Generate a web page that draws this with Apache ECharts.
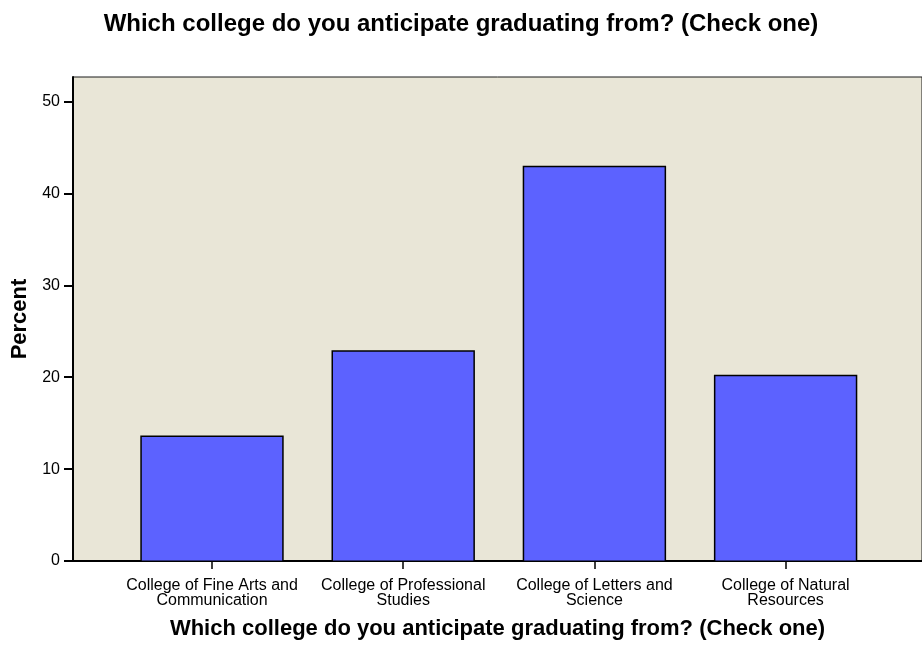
<!DOCTYPE html>
<html>
<head>
<meta charset="utf-8">
<script src="https://cdn.jsdelivr.net/npm/echarts@6/dist/echarts.min.js"></script>
<style>html,body{margin:0;padding:0;background:#fff;}#c{width:922px;height:645px;}</style>
</head>
<body>
<div id="c"></div>
<script>
const categories = ['College of Fine Arts and\nCommunication', 'College of Professional\nStudies', 'College of Letters and\nScience', 'College of Natural\nResources'];
const percentValues = [13.75, 23.0, 43.05, 20.35];
const yTickValues = [0, 10, 20, 30, 40, 50];
const titleText = 'Which college do you anticipate graduating from? (Check one)';

const chart = echarts.init(document.getElementById('c'), null, {renderer: 'canvas'});
const FONT = 'Arial, "Liberation Sans", Helvetica, sans-serif';
const yMax = 52.68;
chart.setOption({
  animation: false,
  backgroundColor: '#ffffff',
  title: {
    text: titleText, left: 'center', top: 7,
    textStyle: {fontFamily: FONT, fontSize: 24, fontWeight: 'bold', color: '#000'}
  },
  grid: [
    {left: 73, top: 77, right: 0, bottom: 83, show: true, backgroundColor: '#E9E6D7', borderColor: '#1a1a1a', borderWidth: 1, containLabel: false},
    {left: 116.4, top: 77, width: 764.8, bottom: 83, show: false, containLabel: false}
  ],
  xAxis: [
    {gridIndex: 0, type: 'category', data: [''], axisLine: {show: true, lineStyle: {color: '#000', width: 2}}, axisTick: {show: false}, axisLabel: {show: false},
     name: titleText, nameLocation: 'middle', nameGap: 57,
     nameTextStyle: {fontFamily: FONT, fontSize: 22, fontWeight: 'bold', color: '#000'}},
    {gridIndex: 1, type: 'category', data: categories, axisLine: {show: false},
     axisTick: {show: true, alignWithLabel: true, length: 7, lineStyle: {color: '#000', width: 1.5}},
     axisLabel: {fontFamily: FONT, fontSize: 16, color: '#000', lineHeight: 15, margin: 16, interval: 0}}
  ],
  yAxis: [
    {gridIndex: 0, type: 'value', min: 0, max: yMax,
     axisLine: {show: true, lineStyle: {color: '#000', width: 2}},
     axisTick: {show: true, length: 9, customValues: yTickValues, lineStyle: {color: '#000', width: 2}},
     axisLabel: {fontFamily: FONT, fontSize: 16, color: '#000', margin: 13, customValues: yTickValues},
     splitLine: {show: false},
     name: 'Percent', nameLocation: 'middle', nameGap: 40, nameRotate: 90,
     nameTextStyle: {fontFamily: FONT, fontSize: 22, fontWeight: 'bold', color: '#000'}},
    {gridIndex: 1, type: 'value', min: 0, max: yMax, show: false, splitLine: {show: false}}
  ],
  series: [{
    type: 'bar', xAxisIndex: 1, yAxisIndex: 1, data: percentValues, barWidth: '75%',
    itemStyle: {color: '#5C62FF', borderColor: '#000', borderWidth: 1.5}
  }]
});
</script>
</body>
</html>
